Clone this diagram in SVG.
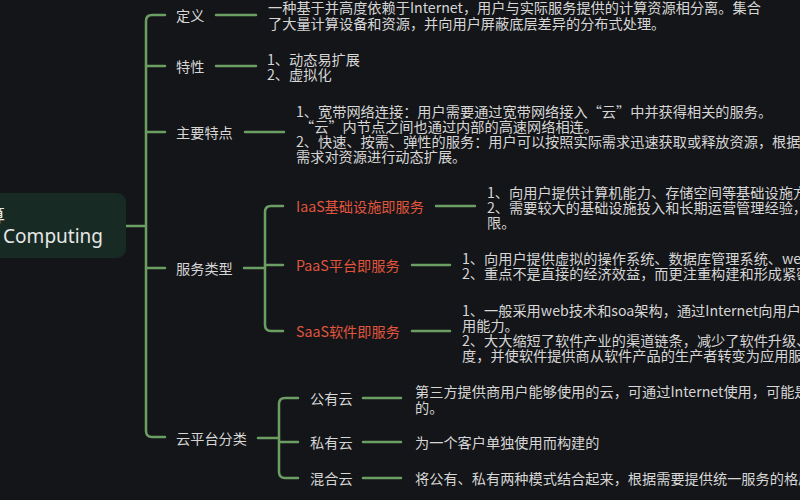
<svg xmlns="http://www.w3.org/2000/svg" width="800" height="500" viewBox="0 0 800 500">
<style>
.t{font-family:"Noto Sans CJK SC","Noto Sans",sans-serif;font-size:14.2px;fill:#d6d6d6;dominant-baseline:central}
.r{font-family:"Noto Sans CJK SC","Noto Sans",sans-serif;font-size:14.2px;fill:#e0553e;dominant-baseline:central}
.c{fill:none;stroke:#6b9e62;stroke-width:2.5;stroke-linecap:round;stroke-linejoin:round}
</style>
<rect width="800" height="500" fill="#141518"/>
<g id="connectors" class="c">
<path d="M126,226 H146"/>
<path d="M165,15 H152 Q146,15 146,21 V431 Q146,437 152,437 H165"/>
<path d="M146,66 H165"/><path d="M146,132 H165"/><path d="M146,268 H165"/>
<path d="M216,15 H256"/><path d="M216,66 H256"/><path d="M245,132 H284"/>
<path d="M244,268 H265"/>
<path d="M283,206 H271 Q265,206 265,212 V325 Q265,331 271,331 H283"/>
<path d="M265,265 H283"/>
<path d="M436,206 H475"/><path d="M412,265 H450"/><path d="M412,331 H450"/>
<path d="M258,438 H279"/>
<path d="M298,398 H285 Q279,398 279,404 V472 Q279,478 285,478 H298"/>
<path d="M279,442 H298"/>
<path d="M363,398 H401"/><path d="M363,442 H401"/><path d="M363,478 H401"/>
</g>
<g id="root">
<rect x="-20" y="193" width="146" height="65" rx="9" fill="#182a24"/>
<text x="5" y="214" text-anchor="end" style="font-family:'Noto Sans CJK SC','Noto Sans',sans-serif;font-size:18px;fill:#e6e6e6;dominant-baseline:central">云计算</text>
<text x="103" y="236" text-anchor="end" style="font-family:'Noto Sans','Noto Sans CJK SC',sans-serif;font-size:19px;fill:#e6e6e6;dominant-baseline:central">Cloud Computing</text>
</g>
<g id="def"><text class="t" x="268" y="15" dx="-92">定义</text>
<text class="t" x="268" y="7">一种基于并高度依赖于Internet，用户与实际服务提供的计算资源相分离。集合</text>
<text class="t" x="268" y="23">了大量计算设备和资源，并向用户屏蔽底层差异的分布式处理。</text></g>
<g id="prop"><text class="t" x="176" y="66">特性</text>
<text class="t" x="267" y="59">1、动态易扩展</text>
<text class="t" x="267" y="74">2、虚拟化</text></g>
<g id="feat"><text class="t" x="176" y="132">主要特点</text>
<text class="t" x="296" y="111">1、宽带网络连接：用户需要通过宽带网络接入“云”中并获得相关的服务。</text>
<text class="t" x="300" y="126">“云”内节点之间也通过内部的高速网络相连。</text>
<text class="t" x="296" y="141">2、快速、按需、弹性的服务：用户可以按照实际需求迅速获取或释放资源，根据</text>
<text class="t" x="296" y="156">需求对资源进行动态扩展。</text></g>
<g id="svc"><text class="t" x="176" y="268">服务类型</text></g>
<g id="iaas"><text class="r" x="296" y="206">IaaS基础设施即服务</text>
<text class="t" x="487" y="192">1、向用户提供计算机能力、存储空间等基础设施方面</text>
<text class="t" x="487" y="207">2、需要较大的基础设施投入和长期运营管理经验，其</text>
<text class="t" x="487" y="222">限。</text></g>
<g id="paas"><text class="r" x="296" y="265">PaaS平台即服务</text>
<text class="t" x="462" y="258">1、向用户提供虚拟的操作系统、数据库管理系统、web应用</text>
<text class="t" x="462" y="273">2、重点不是直接的经济效益，而更注重构建和形成紧密的</text></g>
<g id="saas"><text class="r" x="296" y="331">SaaS软件即服务</text>
<text class="t" x="462" y="310">1、一般采用web技术和soa架构，通过Internet向用户提供</text>
<text class="t" x="462" y="325">用能力。</text>
<text class="t" x="462" y="340">2、大大缩短了软件产业的渠道链条，减少了软件升级、定</text>
<text class="t" x="462" y="355">度，并使软件提供商从软件产品的生产者转变为应用服务的</text></g>
<g id="cloud"><text class="t" x="176" y="438">云平台分类</text></g>
<g id="pub"><text class="t" x="310" y="398">公有云</text>
<text class="t" x="415" y="391">第三方提供商用户能够使用的云，可通过Internet使用，可能是</text>
<text class="t" x="415" y="407">的。</text></g>
<g id="priv"><text class="t" x="310" y="442">私有云</text>
<text class="t" x="415" y="442">为一个客户单独使用而构建的</text></g>
<g id="hyb"><text class="t" x="310" y="478">混合云</text>
<text class="t" x="415" y="478">将公有、私有两种模式结合起来，根据需要提供统一服务的格局</text></g>
</svg>
